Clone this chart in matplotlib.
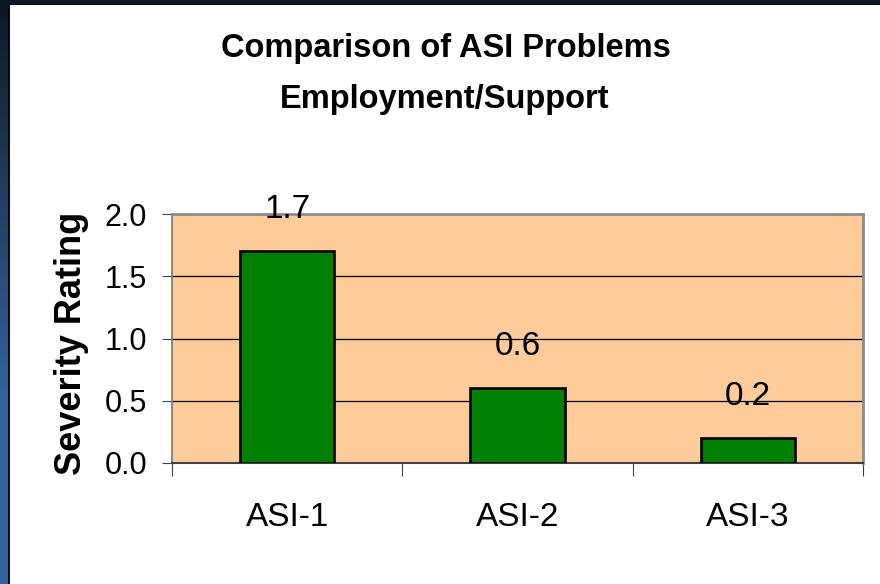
import matplotlib.pyplot as plt
import numpy as np
from matplotlib.colors import LinearSegmentedColormap
from matplotlib.patches import Rectangle

# data
categories = ["ASI-1", "ASI-2", "ASI-3"]
values = [1.7, 0.6, 0.2]
yticks = [0.0, 0.5, 1.0, 1.5, 2.0]

plt.rcParams['font.family'] = ['Liberation Sans', 'DejaVu Sans']

fig = plt.figure(figsize=(8.8, 5.84), dpi=100)
fig.patch.set_facecolor("white")

# slide frame: dark gradient strip on the left, dark strip on top
strip = fig.add_axes([0, 0, 8 / 880, 1])
grad = np.linspace(0, 1, 256).reshape(-1, 1)
cmap = LinearSegmentedColormap.from_list("slide", ["#0c1a27", "#1f3f62", "#2f6399", "#30659b"])
strip.imshow(grad, aspect="auto", cmap=cmap, extent=[0, 1, 0, 1])
strip.set_axis_off()
fig.patches.append(Rectangle((8 / 880, 0), 2 / 880, 1, transform=fig.transFigure,
                             facecolor="#05080c", edgecolor="none"))
fig.patches.append(Rectangle((0, 1 - 4 / 584), 1, 4 / 584, transform=fig.transFigure,
                             facecolor="#0c1a27", edgecolor="none"))
fig.patches.append(Rectangle((8 / 880, 1 - 5 / 584), 1, 1 / 584, transform=fig.transFigure,
                             facecolor="#05080c", edgecolor="none"))

ax = fig.add_axes([172 / 880, 121 / 584, 691 / 880, 249 / 584])
ax.set_facecolor("#ffcc99")

x = np.arange(len(categories))
bars = ax.bar(x, values, width=0.41, color="#008000", edgecolor="black",
              linewidth=1.9, zorder=3)

for b, v in zip(bars, values):
    ax.annotate(f"{v:.1f}", (b.get_x() + b.get_width() / 2, v),
                xytext=(0, 24), textcoords="offset points",
                ha="center", va="baseline", fontsize=24, zorder=4)

ax.set_xlim(-0.5, len(categories) - 0.5)
ax.set_ylim(0, 2.0)
ax.set_yticks(yticks)
ax.set_yticklabels([f"{t:.1f}" for t in yticks])
ax.yaxis.grid(True, color="black", linewidth=0.9, zorder=0)
ax.set_axisbelow(True)

ax.set_xticks(x)
ax.set_xticklabels(categories, fontsize=24)
ax.set_xticks(np.arange(-0.5, len(categories)), minor=True)
ax.tick_params(axis="x", which="major", length=0, pad=28)
ax.tick_params(axis="x", which="minor", length=9, width=0.8, color="#404040",
               direction="out")
ax.tick_params(axis="y", length=7, width=0.8, color="#404040", labelsize=22, pad=11)

ax.set_ylabel("Severity Rating", fontsize=26, fontweight="bold")
ax.yaxis.set_label_coords(-0.12, 0.48)

for side in ["top", "right"]:
    ax.spines[side].set_color("#8c8c8c")
    ax.spines[side].set_linewidth(2)
ax.spines["left"].set_color("#7a7a7a")
ax.spines["left"].set_linewidth(1.2)
ax.spines["bottom"].set_color("#404040")
ax.spines["bottom"].set_linewidth(1.5)

fig.text(0.507, 1 - 48 / 584, "Comparison of ASI Problems", ha="center", va="center",
         fontsize=23.5, fontweight="bold")
fig.text(0.505, 1 - 99 / 584, "Employment/Support", ha="center", va="center",
         fontsize=23.5, fontweight="bold")

fig.savefig("out.png", dpi=100)
